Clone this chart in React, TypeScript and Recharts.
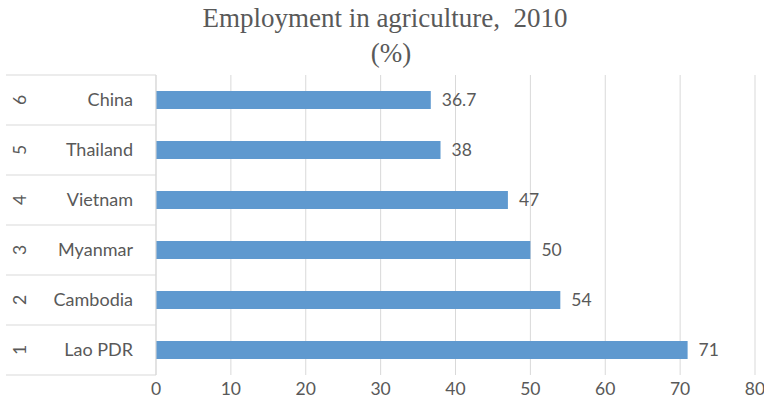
import React from 'react';
import { BarChart, Bar, XAxis, YAxis, CartesianGrid, LabelList } from 'recharts';

const countries = ['China', 'Thailand', 'Vietnam', 'Myanmar', 'Cambodia', 'Lao PDR'];
const ranks = ['6', '5', '4', '3', '2', '1'];
const values = [36.7, 38, 47, 50, 54, 71];
const xTicks = [0, 10, 20, 30, 40, 50, 60, 70, 80];

const data = countries.map((c, i) => ({ name: c, rank: ranks[i], value: values[i] }));

const W = 764;
const H = 401;
const X_AXIS_H = 26;
const Y_AXIS_W = 150;
const margin = { top: 75, right: 9, bottom: 0, left: 6 };
const FONT = 'Lato, "Noto Sans", sans-serif';
const GRAY = '#595959';
const LINE = '#d9d9d9';
const FS = 17.5;

const CategoryTick = (props: any) => {
  const { y, payload, index } = props;
  const band = (H - margin.top - margin.bottom - X_AXIS_H) / data.length;
  const left = margin.left;
  const right = margin.left + Y_AXIS_W;
  const row = data[index] || data.find((d) => d.name === payload.value);
  return (
    <g>
      <line x1={left} x2={right} y1={y - band / 2} y2={y - band / 2} stroke={LINE} strokeWidth={1} />
      {index === data.length - 1 && (
        <line x1={left} x2={right} y1={y + band / 2} y2={y + band / 2} stroke={LINE} strokeWidth={1} />
      )}
      <text x={right - 23} y={y} dy="0.35em" textAnchor="end" fill={GRAY} fontSize={18} fontFamily={FONT}>
        {payload.value}
      </text>
      <text
        x={0}
        y={0}
        dy="0.35em"
        textAnchor="middle"
        fill={GRAY}
        fontSize={FS}
        fontFamily={FONT}
        transform={`translate(${left + 14},${y}) rotate(-90)`}
      >
        {row ? row.rank : ''}
      </text>
    </g>
  );
};

export default function App() {
  return (
    <div style={{ position: 'absolute', left: 0, top: 0, width: W, height: H, background: '#fff' }}>
      <div
        style={{
          position: 'absolute',
          left: 0,
          top: 1,
          width: W,
          textAlign: 'center',
          fontFamily: '"Liberation Serif", "Times New Roman", serif',
          fontSize: 27,
          color: GRAY,
          lineHeight: '35px',
          whiteSpace: 'pre',
        }}
      >
        <div style={{ paddingLeft: 6 }}>{'Employment in agriculture,  2010'}</div>
        <div style={{ paddingLeft: 18 }}>(%)</div>
      </div>
      <div style={{ position: 'absolute', left: 0, top: 0 }}>
        <BarChart width={W} height={H} data={data} layout="vertical" margin={margin}>
          <CartesianGrid horizontal={false} stroke={LINE} strokeDasharray="" />
          <XAxis
            type="number"
            domain={[0, 80]}
            ticks={xTicks}
            interval={0}
            axisLine={false}
            tickLine={false}
            height={X_AXIS_H}
            tick={{ fill: GRAY, fontSize: FS, fontFamily: FONT }}
          />
          <YAxis
            type="category"
            dataKey="name"
            width={Y_AXIS_W}
            axisLine={{ stroke: LINE }}
            tickLine={false}
            tick={<CategoryTick />}
            interval={0}
          />
          <Bar dataKey="value" fill="#5f99cf" barSize={18} isAnimationActive={false}>
            <LabelList dataKey="value" position="right" offset={11} fill={GRAY} fontSize={FS} fontFamily={FONT} />
          </Bar>
        </BarChart>
      </div>
    </div>
  );
}
